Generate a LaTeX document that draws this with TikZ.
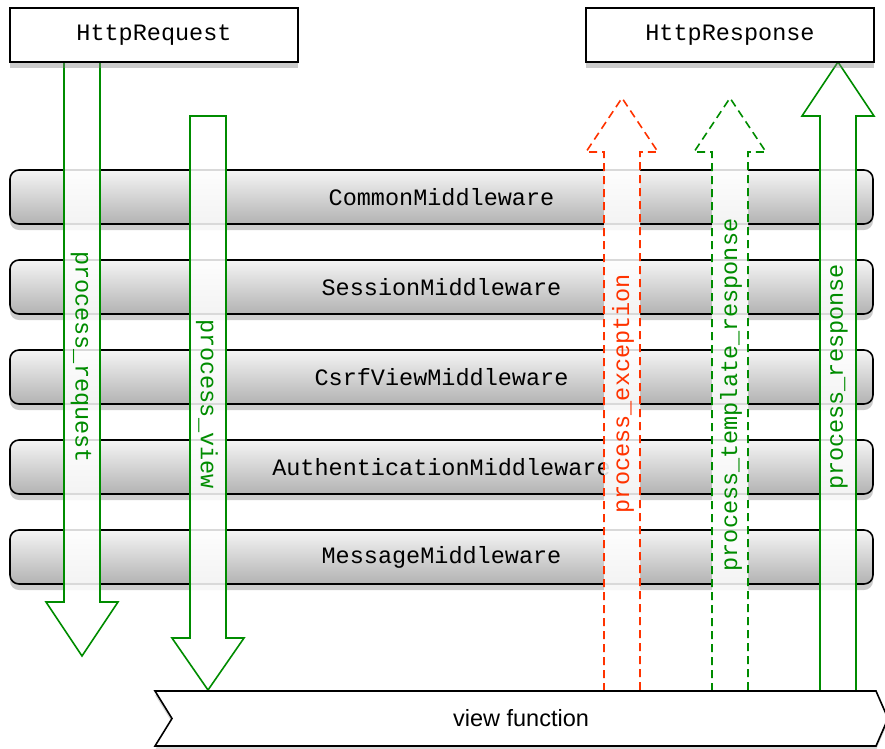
\documentclass[tikz,border=0pt]{standalone}
\usepackage{fontspec}
\setmonofont{Liberation Mono}
\setsansfont{Liberation Sans}
\usetikzlibrary{shadows}
\definecolor{procgreen}{RGB}{0,140,0}
\definecolor{procred}{RGB}{255,51,0}
\tikzset{
  endbox/.style={draw,line width=1.6pt,fill=white,minimum width=288pt,minimum height=54pt,
    font=\ttfamily\fontsize{23.5}{28}\selectfont,
    drop shadow={shadow xshift=0pt,shadow yshift=-6pt,opacity=0.4}},
  mwbar/.style={draw,line width=1.6pt,rounded corners=9pt,top color=white!96!black,bottom color=black!30,
    minimum width=863pt,minimum height=54pt,font=\ttfamily\fontsize{23.5}{28}\selectfont,
    drop shadow={shadow xshift=0pt,shadow yshift=-6pt,opacity=0.4}},
  callarrow/.style={line width=1.6pt,fill=white,fill opacity=0.85,line join=miter},
  calltext/.style={font=\ttfamily\fontsize{23.5}{28}\selectfont}
}
\begin{document}
\begin{tikzpicture}[x=1pt,y=-1pt]
\useasboundingbox (0,0) rectangle (885,748);

	\foreach \name/\y in {CommonMiddleware/197,SessionMiddleware/287,CsrfViewMiddleware/377,AuthenticationMiddleware/467,MessageMiddleware/557}
		\node[mwbar] (\name) at (441.5,\y) {\name};

	\draw[callarrow,draw=procgreen] (64,62) -- (64,602) -- (46,602) -- (82,656) -- (118,602) -- (100,602) -- (100,62) -- cycle;
	\draw[callarrow,draw=procgreen] (190,116) -- (190,638) -- (172,638) -- (208,690) -- (244,638) -- (226,638) -- (226,116) -- cycle;
	\draw[callarrow,draw=procred,dash pattern=on 8pt off 5pt] (604,691) -- (604,152) -- (586,152) -- (622,98) -- (658,152) -- (640,152) -- (640,691);
	\draw[callarrow,draw=procgreen,dash pattern=on 8pt off 5pt] (712,691) -- (712,152) -- (694,152) -- (730,98) -- (766,152) -- (748,152) -- (748,691);
	\draw[callarrow,draw=procgreen] (820,691) -- (820,116) -- (802,116) -- (838,62) -- (874,116) -- (856,116) -- (856,691);

	\node[calltext,text=procgreen,rotate=-90] (preq) at (81,357) {process\_request};
	\node[calltext,text=procgreen,rotate=-90] (pview) at (207,404) {process\_view};
	\node[calltext,text=procred,rotate=90] (pexc) at (623,394) {process\_exception};
	\node[calltext,text=procgreen,rotate=90] (ptmpl) at (731,395) {process\_template\_response};
	\node[calltext,text=procgreen,rotate=90] (presp) at (839,377) {process\_response};

	\node[endbox] (request) at (154,35) {HttpRequest};
	\node[endbox] (response) at (730,35) {HttpResponse};

	\draw[line width=1.6pt,fill=white,drop shadow={shadow xshift=0pt,shadow yshift=-4pt,opacity=0.3}]
		(155,691) -- (876,691) -- (888,718.5) -- (876,746) -- (155,746) -- (172,718.5) -- cycle;
	\node[font=\sffamily\fontsize{23.5}{28}\selectfont] (view) at (521,718.5) {view function};

\end{tikzpicture}
\end{document}
